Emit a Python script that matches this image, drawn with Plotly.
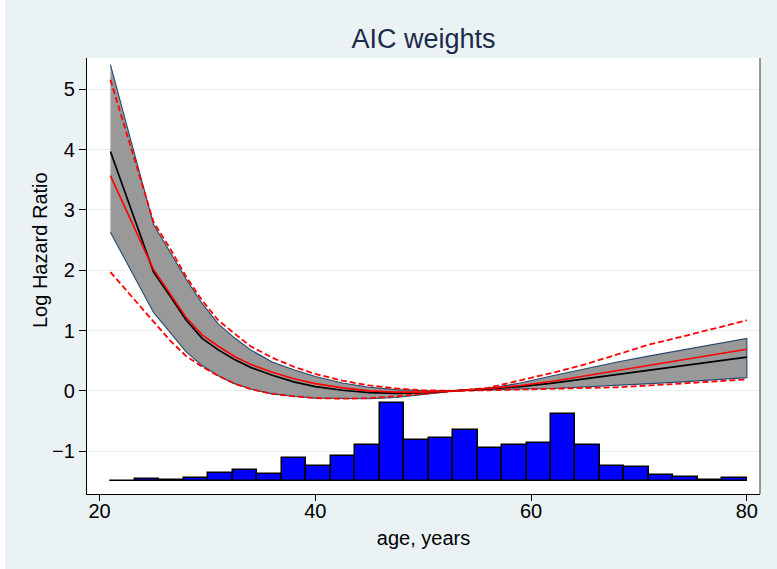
import numpy as np
import plotly.graph_objects as go

# Age grid on which the hazard curves are evaluated
ages = [21, 25, 26.5, 28, 29.5, 31, 32.5, 34, 36, 38, 40, 42.5, 45, 47.5, 50,
        53, 56, 59, 62, 65, 68, 71, 74, 77, 80]

# Model-averaged (AIC weights) log hazard ratio and its confidence band
lhr_avg = [3.97, 1.97, 1.58, 1.18, 0.87, 0.68, 0.52, 0.39, 0.26, 0.15, 0.07, 0.01, -0.03, -0.04, -0.03,
           0.0, 0.03, 0.07, 0.13, 0.20, 0.28, 0.35, 0.42, 0.49, 0.56]
band_upper = [5.41, 2.76, 2.31, 1.86, 1.45, 1.11, 0.88, 0.68, 0.48, 0.35, 0.24, 0.13, 0.06, 0.02, 0.005,
              0.0, 0.04, 0.13, 0.25, 0.37, 0.48, 0.58, 0.68, 0.78, 0.87]
band_lower = [2.63, 1.30, 0.97, 0.65, 0.42, 0.25, 0.12, 0.03, -0.05, -0.09, -0.12, -0.13, -0.13, -0.11, -0.06,
              0.0, 0.02, 0.03, 0.04, 0.06, 0.09, 0.12, 0.15, 0.18, 0.22]

# Comparison model: estimate with its confidence limits
lhr_alt = [3.57, 2.01, 1.62, 1.22, 0.93, 0.74, 0.57, 0.44, 0.31, 0.20, 0.12, 0.05, 0.0, -0.02, -0.02,
           0.0, 0.04, 0.09, 0.16, 0.25, 0.34, 0.43, 0.52, 0.60, 0.69]
alt_upper = [5.16, 2.80, 2.37, 1.90, 1.50, 1.17, 0.95, 0.74, 0.55, 0.40, 0.28, 0.17, 0.09, 0.04, 0.01,
             0.0, 0.05, 0.17, 0.30, 0.44, 0.60, 0.77, 0.90, 1.03, 1.17]
alt_lower = [1.97, 1.14, 0.84, 0.58, 0.40, 0.25, 0.12, 0.03, -0.05, -0.09, -0.12, -0.13, -0.12, -0.09, -0.05,
             0.0, 0.01, 0.02, 0.03, 0.04, 0.06, 0.09, 0.12, 0.15, 0.19]

# Age distribution drawn as a histogram under the curves
hist_min, hist_max, hist_bins = 21, 80, 26
hist_base = -1.5
hist_heights = [0.01, 0.04, 0.02, 0.05, 0.14, 0.18, 0.12, 0.39, 0.26, 0.42, 0.60, 1.30, 0.68,
                0.72, 0.85, 0.55, 0.61, 0.63, 1.12, 0.60, 0.26, 0.23, 0.10, 0.07, 0.03, 0.05]

x_ticks = [20, 40, 60, 80]
y_ticks = [-1, 0, 1, 2, 3, 4, 5]

edges = np.linspace(hist_min, hist_max, hist_bins + 1)
centers = (edges[:-1] + edges[1:]) / 2
bin_w = edges[1] - edges[0]

BG = "#EAF2F3"
FONT = "Liberation Sans, Arial, sans-serif"

fig = go.Figure()

fig.add_trace(go.Bar(
    x=centers, y=hist_heights, base=hist_base, width=bin_w,
    marker=dict(color="#0000FF", line=dict(color="black", width=1.5)),
    hoverinfo="skip",
))

# Confidence band as a closed polygon with outline
fig.add_trace(go.Scatter(
    x=ages + ages[::-1], y=band_upper + band_lower[::-1],
    mode="lines", fill="toself", fillcolor="#999999",
    line=dict(color="#24496E", width=1.1),
))

for ys in (alt_upper, alt_lower):
    fig.add_trace(go.Scatter(
        x=ages, y=ys, mode="lines",
        line=dict(color="#FF0000", width=1.8, dash="6px,3px"),
    ))

fig.add_trace(go.Scatter(x=ages, y=lhr_avg, mode="lines",
                         line=dict(color="black", width=1.7)))
fig.add_trace(go.Scatter(x=ages, y=lhr_alt, mode="lines",
                         line=dict(color="#FF0000", width=1.6)))

L, R, T, B = 87, 17, 58, 75
W, H = 777, 569
pw, ph = W - L - R, H - T - B

fig.update_layout(
    width=W, height=H,
    margin=dict(l=L, r=R, t=T, b=B, pad=0),
    paper_bgcolor=BG, plot_bgcolor="white",
    showlegend=False, bargap=0,
    font=dict(family=FONT, color="black"),
    title=dict(text="AIC weights", x=0.5, xanchor="center", xref="paper",
               y=1 - 39 / H, yanchor="middle",
               font=dict(size=27, color="#1C2B4A", family=FONT)),
    xaxis=dict(
        range=[18.83, 81.22], tickvals=x_ticks, ticks="outside", ticklen=6,
        tickcolor="black", tickwidth=1, showline=True, linecolor="black", linewidth=1.2,
        showgrid=False, zeroline=False, tickfont=dict(size=20), ticklabelstandoff=-7,
        title=dict(text="age, years", font=dict(size=20), standoff=9),
    ),
    yaxis=dict(
        range=[-1.71, 5.52], tickvals=y_ticks, ticktext=["\u22121", "0", "1", "2", "3", "4", "5"],
        ticks="outside", ticklen=7, tickcolor="black", tickwidth=1,
        showline=True, linecolor="black", linewidth=1.2,
        showgrid=True, gridcolor="#E6EEF0", gridwidth=1.3, zeroline=False,
        tickfont=dict(size=20),
    ),
    annotations=[
        dict(text="Log Hazard Ratio", textangle=-90, showarrow=False,
             xref="paper", yref="paper", x=(40 - L) / pw, y=(H - B - 250) / ph,
             xanchor="center", yanchor="middle", font=dict(size=20, color="black")),
    ],
    shapes=[
        # right edge of the plot region
        dict(type="line", xref="paper", yref="paper", x0=1, x1=1, y0=0, y1=1,
             line=dict(color="#555555", width=1.2)),
        # thin white frame around the graph region
        dict(type="rect", xref="paper", yref="paper",
             x0=-L / pw, x1=(5 - L) / pw, y0=-B / ph, y1=(H - T) / ph,
             fillcolor="white", line=dict(width=0), layer="above"),
        dict(type="rect", xref="paper", yref="paper",
             x0=-L / pw, x1=(W - L) / pw, y0=(H - T - 5) / ph, y1=(H - T) / ph,
             fillcolor="white", line=dict(width=0), layer="above"),
    ],
)

fig.write_html("out.html")
